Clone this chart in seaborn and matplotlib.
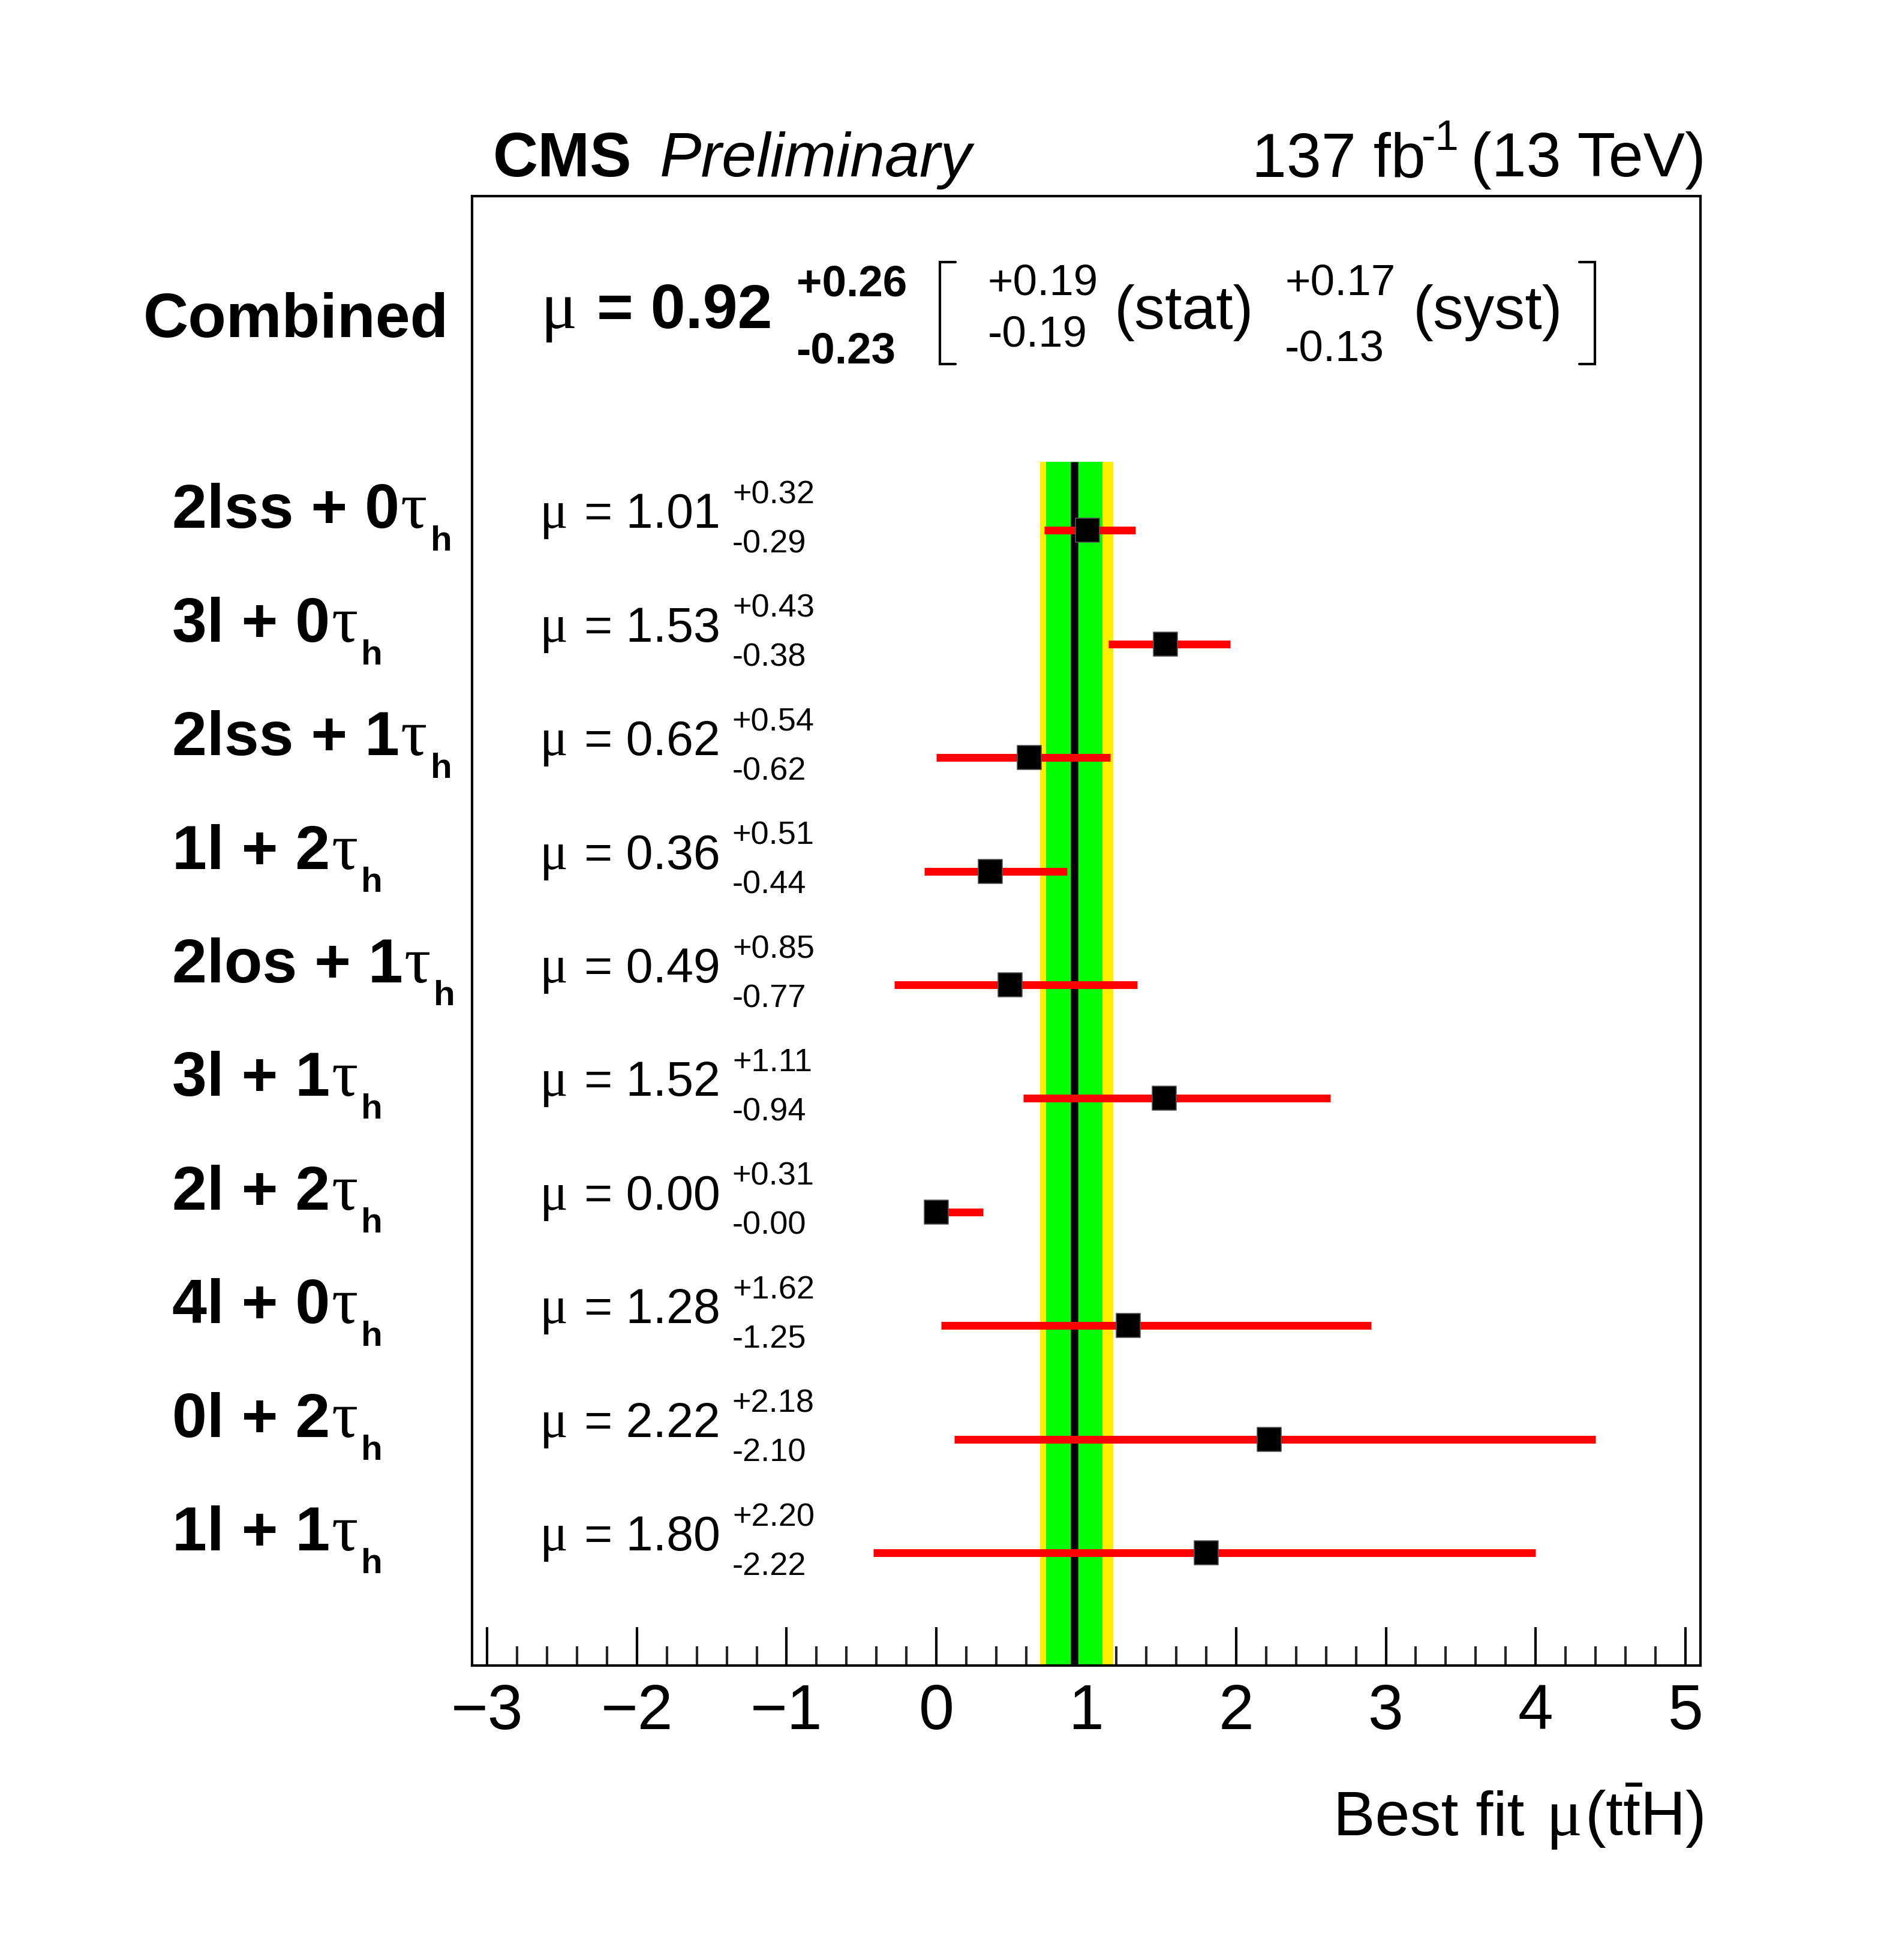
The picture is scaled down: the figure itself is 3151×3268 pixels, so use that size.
import numpy as np
import pandas as pd
import matplotlib.pyplot as plt
import matplotlib.lines as mlines
from matplotlib.ticker import AutoMinorLocator
import seaborn as sns

# channel results: ttH signal strength per category
categories = ["2lss", "3l", "2lss", "1l", "2los", "3l", "2l", "4l", "0l", "1l"]
n_tau = [0, 0, 1, 2, 1, 1, 2, 0, 2, 1]
mu = [1.01, 1.53, 0.62, 0.36, 0.49, 1.52, 0.00, 1.28, 2.22, 1.80]
err_up = [0.32, 0.43, 0.54, 0.51, 0.85, 1.11, 0.31, 1.62, 2.18, 2.20]
err_dn = [0.29, 0.38, 0.62, 0.44, 0.77, 0.94, 0.00, 1.25, 2.10, 2.22]

# combined fit
mu_comb = 0.92
comb_up, comb_dn = 0.26, 0.23
stat_up, stat_dn = 0.19, 0.19
syst_up, syst_dn = 0.17, 0.13

x_ticks = [-3, -2, -1, 0, 1, 2, 3, 4, 5]

W, H = 3151, 3268
SANS = ["Liberation Sans", "DejaVu Sans"]
SERIF = ["Liberation Serif", "DejaVu Serif"]

sns.set_style("ticks")
plt.rcParams["font.family"] = SANS
plt.rcParams["mathtext.fontset"] = "custom"
plt.rcParams["mathtext.rm"] = "Liberation Sans"
plt.rcParams["mathtext.it"] = "Liberation Sans:italic"
plt.rcParams["mathtext.bf"] = "Liberation Sans:bold"

df = pd.DataFrame({"row": np.arange(len(mu)), "mu": mu, "up": err_up, "dn": err_dn})

fig = plt.figure(figsize=(W / 300, H / 300), dpi=300)
fig.patch.set_facecolor("white")
ax = fig.add_axes([787 / W, 1 - 2777 / H, 2048 / W, 2450 / H])
ax.set_facecolor("white")

ax.set_xlim(-3.1, 5.1)
ax.set_ylim(9.99, -2.94)
band_top, band_bot = -0.6, 9.99

# combined band: total (yellow) and stat (green)
ax.fill_betweenx([band_top, band_bot], mu_comb - comb_dn, mu_comb + comb_up,
                 color="#ffee00", lw=0, zorder=1)
ax.fill_betweenx([band_top, band_bot], mu_comb - stat_dn, mu_comb + stat_up,
                 color="#00ff00", lw=0, zorder=2)
ax.vlines(mu_comb, band_top, band_bot, color="black", lw=3.0, zorder=3)

ax.hlines(df["row"], df["mu"] - df["dn"], df["mu"] + df["up"], color="red", lw=3.1, zorder=4)
sns.scatterplot(data=df, x="mu", y="row", marker="s", s=92, color="black",
                edgecolor="#555555", linewidth=0.4, zorder=5, legend=False, ax=ax)

ax.set_xticks(x_ticks)
ax.xaxis.set_minor_locator(AutoMinorLocator(5))
ax.set_yticks([])
ax.set_xlabel("")
ax.set_ylabel("")
ax.tick_params(axis="x", which="major", direction="in", length=15.4, width=1.0,
               top=False, labelsize=25.4, pad=7, colors="black")
ax.tick_params(axis="x", which="minor", direction="in", length=7.7, width=1.0, top=False)
for sp in ax.spines.values():
    sp.set_linewidth(1.0)
    sp.set_color("black")

renderer = fig.canvas.get_renderer()


def place(pieces, x0, y0, align="left"):
    """pieces: (text, gap_px, dy_px, size, kwargs); x0 = ink left, y0 = baseline (px from top)"""
    items = []
    for s, gap, dy, size, kw in pieces:
        t = fig.text(0, 0, s, fontsize=size, ha="left", va="baseline", color="black", **kw)
        items.append((t, gap, dy, t.get_window_extent(renderer).width))
    total = sum(g + w for _, g, _, w in items)
    x = x0 - total if align == "right" else x0
    for t, gap, dy, w in items:
        x += gap
        t.set_position((x / W, 1 - (y0 + dy) / H))
        x += w
    return x


bold = {"fontweight": "bold"}
serif = {"family": SERIF}
plain = {}


def row_px(r):
    return H - ax.transData.transform((0, r))[1]


# channel rows
for i in range(len(mu)):
    base = row_px(i) - 4
    place([(f"{categories[i]} + {n_tau[i]}", 0, 0, 25, bold),
           ("τ", 2, 0, 26.5, serif),
           ("h", 5, 38, 14, bold)], 287, base)
    x_end = place([("μ", 0, 0, 21, serif),
                   (f"= {mu[i]:.2f}", 27, 0, 19.4, plain)], 900, base)
    place([(f"+{err_up[i]:.2f}", 0, 0, 13, plain)], x_end + 20, base - 41)
    place([(f"-{err_dn[i]:.2f}", 0, 0, 13, plain)], x_end + 20, base + 41)

# combined line
place([("Combined", 0, 0, 25, bold)], 239, 562)
place([("μ", 0, 0, 27, serif)], 902, 547)
place([(f"= {mu_comb:.2f}", 0, 0, 25, bold)], 995, 547)
place([(f"+{comb_up:.2f}", 0, 0, 17.5, bold)], 1328, 493)
place([(f"-{comb_dn:.2f}", 0, 0, 17.5, bold)], 1327, 605)
place([(f"+{stat_up:.2f}", 0, 0, 17.5, plain)], 1647, 492)
place([(f"-{stat_dn:.2f}", 0, 0, 17.5, plain)], 1647, 578)
place([("(stat)", 0, 0, 24.5, plain)], 1858, 548)
place([(f"+{syst_up:.2f}", 0, 0, 17.5, plain)], 2142, 492)
place([(f"-{syst_dn:.2f}", 0, 0, 17.5, plain)], 2142, 602)
place([("(syst)", 0, 0, 24.5, plain)], 2356, 548)

for xs in ([1593, 1567, 1567, 1593], [2633, 2659, 2659, 2633]):
    ys = [437, 437, 607, 607]
    fig.add_artist(mlines.Line2D([x / W for x in xs], [1 - y / H for y in ys],
                                 transform=fig.transFigure, color="black", lw=1.0,
                                 solid_joinstyle="miter"))

# header
place([("CMS", 0, 0, 25, bold)], 822, 294)
place([("Preliminary", 0, 0, 25, {"fontstyle": "italic"})], 1100, 294)
place([("137 fb", 0, 0, 25, plain)], 2087, 294)
place([("-1", 0, 0, 17, plain)], 2370, 250)
place([("(13 TeV)", 0, 0, 25, plain)], 2452, 294)

# x axis title
place([("Best fit", 0, 0, 25, plain),
       ("μ", 36, 0, 27, serif),
       (r"(t$\bar{\mathrm{t}}$H)", 4, 0, 25, plain)], 2840, 3060, align="right")

fig.savefig("out.png", dpi=300)
